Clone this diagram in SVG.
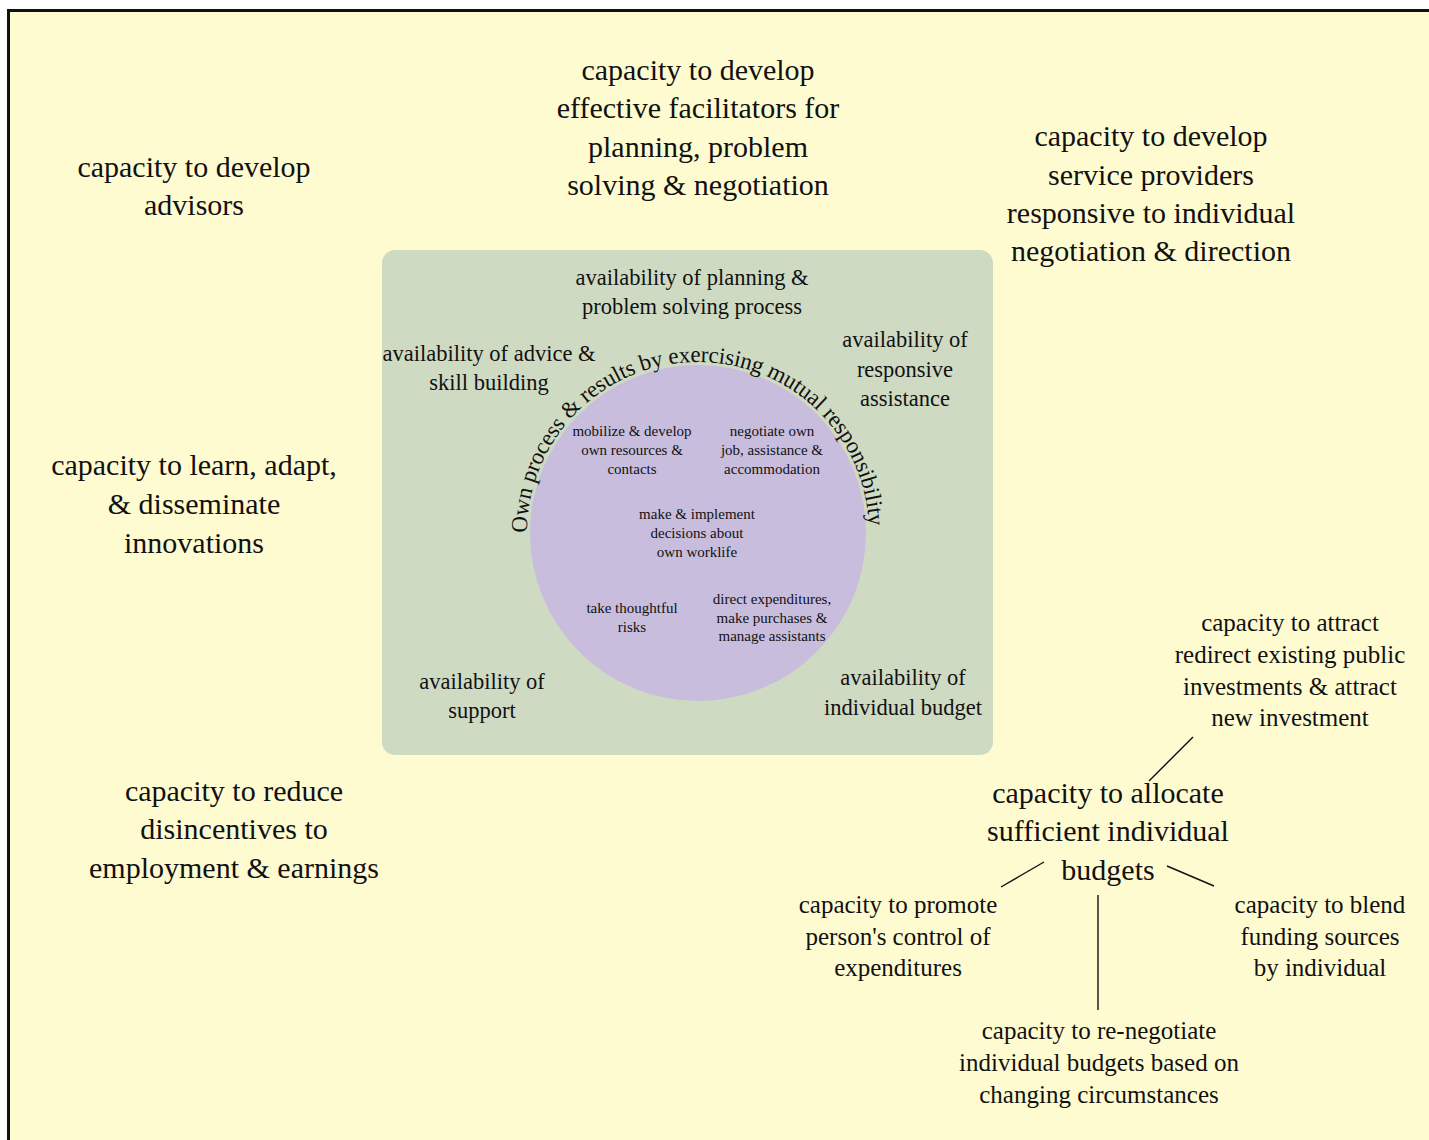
<svg xmlns="http://www.w3.org/2000/svg" xmlns:xlink="http://www.w3.org/1999/xlink" width="1429" height="1140" viewBox="0 0 1429 1140">
<style>
text{font-family:"Liberation Serif","Times New Roman",serif;fill:#111;text-anchor:middle}
.L{font-size:30px}
.M{font-size:25px}
.G{font-size:22.5px}
.S{font-size:15px}
.arc{font-size:23px;text-anchor:start}
.conn line{stroke:#111;stroke-width:1.4}
</style>
<defs>
<path id="arcPath" d="M 527,533 A 171,171 0 0,1 869,533"/>
</defs>
<rect x="0" y="0" width="1429" height="1140" fill="#ffffff"/>
<rect id="frame" x="8.5" y="10.5" width="1440" height="1150" fill="#fffbd1" stroke="#111" stroke-width="3"/>
<g id="panel">
<rect x="382" y="250" width="611" height="505" rx="13" fill="#cfdac3"/>
<circle cx="698" cy="533" r="168" fill="#c8bddd"/>
</g>
<g class="conn" id="connectors">
<line x1="1193" y1="737" x2="1149" y2="781"/>
<line x1="1044" y1="862" x2="1001" y2="887"/>
<line x1="1167" y1="866" x2="1214" y2="886"/>
<line x1="1098" y1="895" x2="1098" y2="1010"/>
</g>
<g id="n-advisors"><text class="L" x="194" y="177">capacity to develop</text><text class="L" x="194" y="215">advisors</text></g>
<g id="n-facilitators"><text class="L" x="698" y="80">capacity to develop</text><text class="L" x="698" y="118">effective facilitators for</text><text class="L" x="698" y="157">planning, problem</text><text class="L" x="698" y="195">solving &amp; negotiation</text></g>
<g id="n-providers"><text class="L" x="1151" y="146">capacity to develop</text><text class="L" x="1151" y="185">service providers</text><text class="L" x="1151" y="223">responsive to individual</text><text class="L" x="1151" y="261">negotiation &amp; direction</text></g>
<g id="n-learn"><text class="L" x="194" y="475">capacity to learn, adapt,</text><text class="L" x="194" y="514">&amp; disseminate</text><text class="L" x="194" y="553">innovations</text></g>
<g id="n-disincentives"><text class="L" x="234" y="801">capacity to reduce</text><text class="L" x="234" y="839">disincentives to</text><text class="L" x="234" y="878">employment &amp; earnings</text></g>
<g id="n-allocate"><text class="L" x="1108" y="803">capacity to allocate</text><text class="L" x="1108" y="841">sufficient individual</text><text class="L" x="1108" y="880">budgets</text></g>
<g id="n-attract"><text class="M" x="1290" y="631">capacity to attract</text><text class="M" x="1290" y="663">redirect existing public</text><text class="M" x="1290" y="695">investments &amp; attract</text><text class="M" x="1290" y="726">new investment</text></g>
<g id="n-promote"><text class="M" x="898" y="913">capacity to promote</text><text class="M" x="898" y="945">person's control of</text><text class="M" x="898" y="976">expenditures</text></g>
<g id="n-blend"><text class="M" x="1320" y="913">capacity to blend</text><text class="M" x="1320" y="945">funding sources</text><text class="M" x="1320" y="976">by individual</text></g>
<g id="n-renegotiate"><text class="M" x="1099" y="1039">capacity to re-negotiate</text><text class="M" x="1099" y="1071">individual budgets based on</text><text class="M" x="1099" y="1103">changing circumstances</text></g>
<g id="n-planning"><text class="G" x="692" y="285">availability of planning &amp;</text><text class="G" x="692" y="314">problem solving process</text></g>
<g id="n-advice"><text class="G" x="489" y="361">availability of advice &amp;</text><text class="G" x="489" y="390">skill building</text></g>
<g id="n-responsive"><text class="G" x="905" y="347">availability of</text><text class="G" x="905" y="377">responsive</text><text class="G" x="905" y="406">assistance</text></g>
<g id="n-support"><text class="G" x="482" y="689">availability of</text><text class="G" x="482" y="718">support</text></g>
<g id="n-budget"><text class="G" x="903" y="685">availability of</text><text class="G" x="903" y="715">individual budget</text></g>
<g id="n-arc"><text class="arc"><textPath xlink:href="#arcPath" href="#arcPath" textLength="530" lengthAdjust="spacing">Own process &amp; results by exercising mutual responsibility</textPath></text></g>
<g id="n-mobilize"><text class="S" x="632" y="436">mobilize &amp; develop</text><text class="S" x="632" y="455">own resources &amp;</text><text class="S" x="632" y="474">contacts</text></g>
<g id="n-negotiate"><text class="S" x="772" y="436">negotiate own</text><text class="S" x="772" y="455">job, assistance &amp;</text><text class="S" x="772" y="474">accommodation</text></g>
<g id="n-decisions"><text class="S" x="697" y="519">make &amp; implement</text><text class="S" x="697" y="538">decisions about</text><text class="S" x="697" y="557">own worklife</text></g>
<g id="n-risks"><text class="S" x="632" y="613">take thoughtful</text><text class="S" x="632" y="632">risks</text></g>
<g id="n-direct"><text class="S" x="772" y="604">direct expenditures,</text><text class="S" x="772" y="623">make purchases &amp;</text><text class="S" x="772" y="641">manage assistants</text></g>
</svg>
